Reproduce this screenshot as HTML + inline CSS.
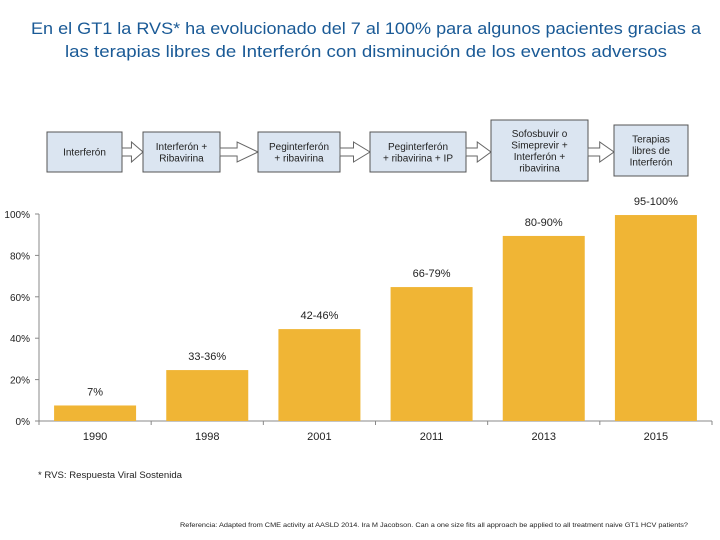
<!DOCTYPE html>
<html><head><meta charset="utf-8"><style>
body{margin:0;background:#fff;}
svg{display:block;font-family:"Liberation Sans",sans-serif;}
</style></head><body>
<svg id="chart" width="720" height="540" viewBox="0 0 720 540">
<text x="366" y="34" text-anchor="middle" font-size="17" fill="#1a5a96" textLength="670" lengthAdjust="spacingAndGlyphs">En el GT1 la RVS* ha evolucionado del 7 al 100% para algunos pacientes gracias a</text>
<text x="366" y="57" text-anchor="middle" font-size="17" fill="#1a5a96" textLength="602" lengthAdjust="spacingAndGlyphs">las terapias libres de Interferón con disminución de los eventos adversos</text>
<g id="flow"></g>
<g id="plot"></g>
<text x="38" y="478" font-size="9" fill="#222" textLength="144" lengthAdjust="spacingAndGlyphs">* RVS: Respuesta Viral Sostenida</text>
<text x="180" y="527" font-size="6" fill="#222" textLength="508" lengthAdjust="spacingAndGlyphs">Referencia: Adapted from CME activity at AASLD 2014. Ira M Jacobson. Can a one size fits all approach be applied to all treatment naive GT1 HCV patients?</text>
</svg>
<script>
const categories=["1990","1998","2001","2011","2013","2015"];
const values=[7.5,24.6,44.4,64.7,89.4,99.5];
const valueLabels=["7%","33-36%","42-46%","66-79%","80-90%","95-100%"];
const ticks=[0,20,40,60,80,100];
const tickLabels=["0%","20%","40%","60%","80%","100%"];
const NS="http://www.w3.org/2000/svg";
function mk(tag,attrs,parent,txt){const e=document.createElementNS(NS,tag);for(const k in attrs)e.setAttribute(k,attrs[k]);if(txt!==undefined)e.textContent=txt;parent.appendChild(e);return e;}
const x0=39,x1=712,y0=421,y100=214;
const band=(x1-x0)/categories.length;
const y=v=>y0-(v/100)*(y0-y100);
const xc=i=>x0+band*(i+0.5);
const plot=document.getElementById('plot');
let ax=mk('line',{x1:x0,y1:y100,x2:x0,y2:y0,stroke:'#888','stroke-width':1},plot);


let bx=mk('line',{x1:x0,y1:y0,x2:x1,y2:y0,stroke:'#888','stroke-width':1},plot);


ticks.forEach((t,i)=>{
  let tk=mk('line',{x1:x0-4,y1:y(t),x2:x0,y2:y(t),stroke:'#888'},plot);
  
  
  let tl=mk('text',{x:x0-9,y:y(t)+4,'text-anchor':'end','font-size':10,fill:'#222'},plot,tickLabels[i]);
  
  
});
for(let i=0;i<=categories.length;i++){
  let tk=mk('line',{x1:x0+band*i,y1:y0,x2:x0+band*i,y2:y0+4,stroke:'#888'},plot);
  
  
}
categories.forEach((c,i)=>{
  const w=82;
  let r=mk('rect',{x:xc(i)-w/2,y:y(values[i]),width:w,height:y0-y(values[i]),fill:'#f0b535'},plot);
  
  
  let l=mk('text',{x:xc(i),y:y(values[i])-10,'text-anchor':'middle','font-size':11,fill:'#222'},plot,valueLabels[i]);
  
  
  let xl=mk('text',{x:xc(i),y:y0+19,'text-anchor':'middle','font-size':11,fill:'#222'},plot,c);
  
  
});
const flow=document.getElementById('flow');
const boxes=[
 {x:47,y:132,w:75,h:40,lines:["Interferón"]},
 {x:143,y:132,w:77,h:40,lines:["Interferón +","Ribavirina"]},
 {x:258,y:132,w:82,h:40,lines:["Peginterferón","+ ribavirina"]},
 {x:370,y:132,w:96,h:40,lines:["Peginterferón","+ ribavirina + IP"]},
 {x:491,y:120,w:97,h:61,lines:["Sofosbuvir o","Simeprevir +","Interferón +","ribavirina"]},
 {x:614,y:125,w:74,h:51,lines:["Terapias","libres de","Interferón"]}
];
boxes.forEach((b,i)=>{
  let r=mk('rect',{x:b.x,y:b.y,width:b.w,height:b.h,fill:'#dbe5f1',stroke:'#555','stroke-width':1},flow);
  
  
  const lh=11.5,cy=b.y+b.h/2-(b.lines.length-1)*lh/2+3.5;
  b.lines.forEach((ln,j)=>{
    let t=mk('text',{x:b.x+b.w/2,y:cy+j*lh,'text-anchor':'middle','font-size':10,fill:'#222'},flow,ln);
    
    
  });
  if(i<boxes.length-1){
    const ax1=b.x+b.w,ax2=boxes[i+1].x,my=152;
    const p=`M${ax1} ${my-4} H${ax1+(ax2-ax1)*0.45} V${my-10} L${ax2} ${my} L${ax1+(ax2-ax1)*0.45} ${my+10} V${my+4} H${ax1} Z`;
    let a=mk('path',{d:p,fill:'#fff',stroke:'#666','stroke-width':1},flow);
    
    
  }
});
</script>
</body></html>
